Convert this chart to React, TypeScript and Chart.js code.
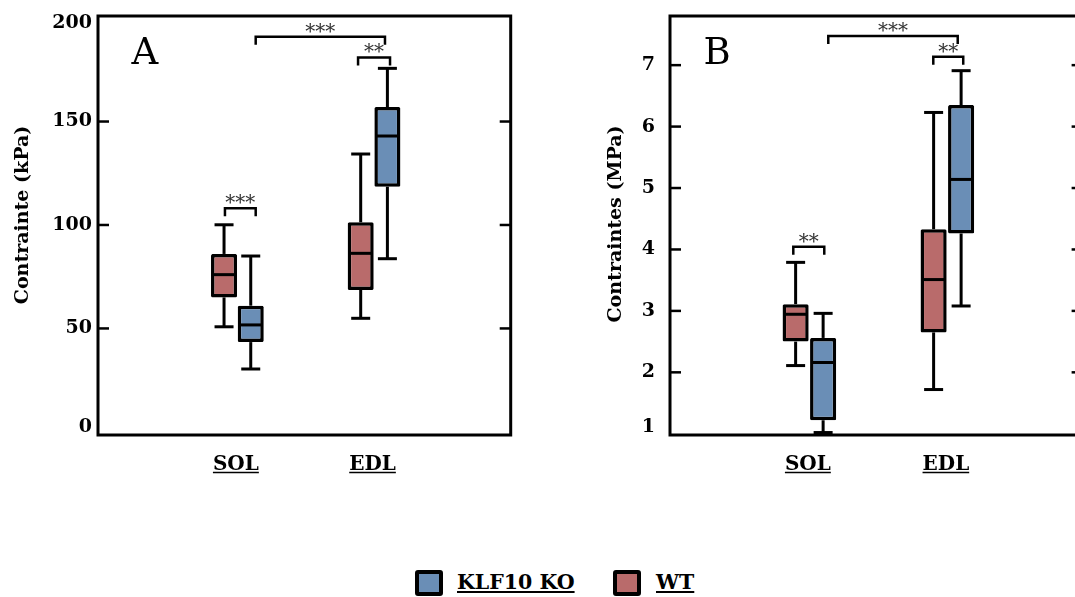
import React, { useEffect, useRef } from 'react';
import { Chart, registerables } from 'chart.js';

Chart.register(...registerables);

// ---------- data ----------
const CATEGORIES = ['SOL', 'EDL'];
const CATEGORY_X = [1, 2];
const SERIES_LABELS = ['KLF10 KO', 'WT'];

// five-number summaries per category: [min, q1, median, q3, max]
const A_WT = [
  [50.8, 65.0, 76.0, 86.0, 100.1],
  [54.9, 68.6, 86.3, 101.3, 134.3],
];
const A_KO = [
  [30.4, 43.4, 51.7, 61.0, 85.0],
  [83.7, 118.5, 143.0, 157.0, 175.7],
];
const A_TICKS = [0, 50, 100, 150, 200];
const A_SIG = [
  { x1: 0.909, x2: 1.134, y: 108.1, label: '***' },
  { x1: 1.134, x2: 2.08, y: 191.0, label: '***' },
  { x1: 1.883, x2: 2.117, y: 181.0, label: '**' },
];

const B_WT = [
  [2.11, 2.5, 2.945, 3.11, 3.79],
  [1.72, 2.65, 3.51, 4.33, 6.23],
];
const B_KO = [
  [1.02, 1.22, 2.16, 2.56, 2.96],
  [3.08, 4.26, 5.14, 6.35, 6.91],
];
const B_TICKS = [1, 2, 3, 4, 5, 6, 7];
const B_SIG = [
  { x1: 0.8835, x2: 1.108, y: 4.045, label: '**' },
  { x1: 1.137, x2: 2.075, y: 7.474, label: '***' },
  { x1: 1.898, x2: 2.115, y: 7.138, label: '**' },
];

const RED = '#b96b6b';
const BLUE = '#6a8eb6';
const SERIF = '"DejaVu Serif"';

interface Sig { x1: number; x2: number; y: number; label: string }
interface Panel {
  letter: string;
  title: string;
  titleX: number;
  titleY: number;
  wt: number[][];
  ko: number[][];
  ticks: number[];
  sig: Sig[];
  yMin: number;
  yMax: number;
  xMin: number;
  xMax: number;
  labelPad: number;
  catPct: number;
  barPct: number;
  padding: { left: number; right: number; top: number; bottom: number };
}

const PANEL_A: Panel = {
  letter: 'A',
  title: 'Contrainte (kPa)',
  titleX: 23,
  titleY: 215,
  wt: A_WT,
  ko: A_KO,
  ticks: A_TICKS,
  sig: A_SIG,
  yMin: -1.5,
  yMax: 201,
  xMin: -0.02,
  xMax: 3,
  labelPad: 6,
  catPct: 0.3908,
  barPct: 0.975,
  padding: { left: 98, right: 49.3, top: 16, bottom: 65 },
};

const PANEL_B: Panel = {
  letter: 'B',
  title: 'Contraintes (MPa)',
  titleX: 56.5,
  titleY: 224,
  wt: B_WT,
  ko: B_KO,
  ticks: B_TICKS,
  sig: B_SIG,
  yMin: 0.98,
  yMax: 7.8,
  xMin: -0.01,
  xMax: 2.98,
  labelPad: 15,
  catPct: 0.3986,
  barPct: 0.95,
  padding: { left: 110, right: 37.4, top: 16, bottom: 65 },
};

function line(ctx: CanvasRenderingContext2D, x1: number, y1: number, x2: number, y2: number) {
  ctx.beginPath();
  ctx.moveTo(x1, y1);
  ctx.lineTo(x2, y2);
  ctx.stroke();
}

function makePlugin(p: Panel) {
  return {
    id: 'boxExtras' + p.letter,
    beforeDatasetsDraw(chart: any) {
      const ctx: CanvasRenderingContext2D = chart.ctx;
      const ys = chart.scales.y;
      ctx.save();
      ctx.strokeStyle = '#000';
      ctx.lineWidth = 3;
      chart.data.datasets.forEach((ds: any, di: number) => {
        const meta = chart.getDatasetMeta(di);
        meta.data.forEach((bar: any, i: number) => {
          const s = ds.stats[i];
          const { x } = bar.getProps(['x'], true);
          const yMin = ys.getPixelForValue(s[0]);
          const yQ1 = ys.getPixelForValue(s[1]);
          const yQ3 = ys.getPixelForValue(s[3]);
          const yMax = ys.getPixelForValue(s[4]);
          line(ctx, x, yQ3, x, yMax);
          line(ctx, x, yQ1, x, yMin);
          line(ctx, x - 9.5, yMax, x + 9.5, yMax);
          line(ctx, x - 9.5, yMin, x + 9.5, yMin);
        });
      });
      ctx.restore();
    },
    afterDatasetsDraw(chart: any) {
      const ctx: CanvasRenderingContext2D = chart.ctx;
      const ys = chart.scales.y;
      ctx.save();
      ctx.strokeStyle = '#000';
      ctx.lineWidth = 3;
      chart.data.datasets.forEach((ds: any, di: number) => {
        const meta = chart.getDatasetMeta(di);
        meta.data.forEach((bar: any, i: number) => {
          const s = ds.stats[i];
          const { x, width } = bar.getProps(['x', 'width'], true);
          const yMed = ys.getPixelForValue(s[2]);
          line(ctx, x - width / 2 + 1, yMed, x + width / 2 - 1, yMed);
        });
      });
      ctx.restore();
    },
    afterDraw(chart: any) {
      const ctx: CanvasRenderingContext2D = chart.ctx;
      const { left, right, top, bottom } = chart.chartArea;
      const xs = chart.scales.x;
      const ys = chart.scales.y;
      ctx.save();
      // frame
      ctx.strokeStyle = '#000';
      ctx.lineWidth = 3;
      ctx.strokeRect(left, top, right - left, bottom - top);
      // inward ticks
      ctx.lineWidth = 2.5;
      p.ticks.forEach((v) => {
        const y = ys.getPixelForValue(v);
        if (y - top < 6 || bottom - y < 6) return;
        line(ctx, left, y, left + 11, y);
        line(ctx, right - 11, y, right, y);
      });
      // tick labels
      ctx.fillStyle = '#000';
      ctx.font = `bold 19px ${SERIF}`;
      ctx.textAlign = 'right';
      ctx.textBaseline = 'middle';
      p.ticks.forEach((v) => {
        let y = ys.getPixelForValue(v);
        y = Math.max(top + 7.5, Math.min(bottom - 7.5, y));
        ctx.fillText(String(v), left - p.labelPad, y);
      });
      // category labels, underlined
      ctx.font = `bold 20px ${SERIF}`;
      ctx.textAlign = 'center';
      ctx.textBaseline = 'alphabetic';
      ctx.lineWidth = 1.5;
      CATEGORIES.forEach((c, i) => {
        const x = xs.getPixelForValue(CATEGORY_X[i]) - 1.5;
        ctx.fillText(c, x, 470);
        const w = ctx.measureText(c).width;
        line(ctx, x - w / 2, 472.5, x + w / 2, 472.5);
      });
      // y title
      ctx.save();
      ctx.translate(p.titleX, p.titleY);
      ctx.rotate(-Math.PI / 2);
      ctx.font = `bold 19px ${SERIF}`;
      ctx.textAlign = 'center';
      ctx.textBaseline = 'middle';
      ctx.fillText(p.title, 0, 0);
      ctx.restore();
      // panel letter
      ctx.font = `37px ${SERIF}`;
      ctx.textAlign = 'left';
      ctx.textBaseline = 'alphabetic';
      ctx.fillText(p.letter, left + 33.5, 63.5);
      // significance brackets
      ctx.lineWidth = 2.5;
      ctx.strokeStyle = '#000';
      p.sig.forEach((s) => {
        const x1 = xs.getPixelForValue(s.x1);
        const x2 = xs.getPixelForValue(s.x2);
        const y = ys.getPixelForValue(s.y);
        ctx.beginPath();
        ctx.moveTo(x1, y + 8);
        ctx.lineTo(x1, y);
        ctx.lineTo(x2, y);
        ctx.lineTo(x2, y + 8);
        ctx.stroke();
        ctx.fillStyle = '#333';
        ctx.font = `20px ${SERIF}`;
        ctx.textAlign = 'center';
        ctx.fillText(s.label, (x1 + x2) / 2, y + 1);
      });
      ctx.restore();
    },
  };
}

function makeChart(canvas: HTMLCanvasElement, p: Panel) {
  const mk = (label: string, stats: number[][], color: string) => ({
    label,
    data: CATEGORY_X.map((x, i) => ({ x, y: [stats[i][1], stats[i][3]] })),
    backgroundColor: color,
    borderColor: '#000',
    borderWidth: 3.5,
    borderSkipped: false,
    borderRadius: 1.5,
    barPercentage: p.barPct,
    categoryPercentage: p.catPct,
    stats,
  });
  return new Chart(canvas, {
    type: 'bar',
    data: {
      datasets: [mk(SERIES_LABELS[1], p.wt, RED), mk(SERIES_LABELS[0], p.ko, BLUE)] as any,
    },
    options: {
      responsive: false,
      animation: false,
      events: [],
      layout: { padding: p.padding },
      plugins: { legend: { display: false }, tooltip: { enabled: false } },
      scales: {
        x: {
          type: 'linear',
          min: p.xMin,
          max: p.xMax,
          display: false,
          offset: false,
          afterBuildTicks: (scale: any) => {
            scale.ticks = CATEGORY_X.map((v) => ({ value: v }));
          },
        },
        y: { type: 'linear', min: p.yMin, max: p.yMax, display: false },
      },
    } as any,
    plugins: [makePlugin(p)],
  });
}

const legendText: React.CSSProperties = {
  position: 'absolute',
  top: 572,
  fontFamily: SERIF,
  fontWeight: 'bold',
  fontSize: 20.5,
  lineHeight: '20.5px',
  textDecoration: 'underline',
  textDecorationThickness: '1.5px',
  textUnderlineOffset: '2px',
  color: '#000',
  whiteSpace: 'nowrap',
};

const swatch = (left: number, color: string): React.CSSProperties => ({
  position: 'absolute',
  left,
  top: 570,
  width: 28,
  height: 26,
  boxSizing: 'border-box',
  border: '4px solid #000',
  borderRadius: 3,
  background: color,
});

export default function App() {
  const refA = useRef<HTMLCanvasElement>(null);
  const refB = useRef<HTMLCanvasElement>(null);
  useEffect(() => {
    const charts = [makeChart(refA.current!, PANEL_A), makeChart(refB.current!, PANEL_B)];
    return () => charts.forEach((c) => c.destroy());
  }, []);
  return (
    <div
      style={{
        position: 'fixed',
        left: 0,
        top: 0,
        width: 1075,
        height: 597,
        overflow: 'hidden',
        background: '#fff',
      }}
    >
      <canvas ref={refA} width={560} height={500} style={{ position: 'absolute', left: 0, top: 0 }} />
      <canvas ref={refB} width={560} height={500} style={{ position: 'absolute', left: 560, top: 0 }} />
      <div style={swatch(415, BLUE)} />
      <div style={{ ...legendText, left: 457 }}>{SERIES_LABELS[0]}</div>
      <div style={swatch(613, RED)} />
      <div style={{ ...legendText, left: 656 }}>{SERIES_LABELS[1]}</div>
    </div>
  );
}
